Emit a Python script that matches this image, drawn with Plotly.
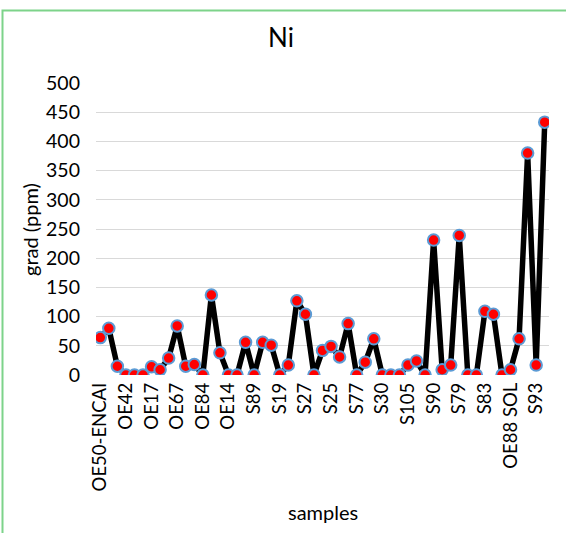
import plotly.graph_objects as go

# Ni concentration per sample (ppm), in sampling order
ni_ppm = [64, 80, 15, 0, 0, 0, 14, 9, 29, 84,
          15, 18, 0, 137, 38, 0, 0, 56, 0, 56,
          51, 0, 17, 127, 104, 0, 42, 49, 31, 88,
          0, 22, 62, 0, 0, 0, 17, 24, 0, 231,
          9, 17, 239, 0, 0, 109, 104, 0, 9, 62,
          380, 17, 433]

# Sample names shown on the axis (every third sample)
tick_labels = ["OE50-ENCAI", "OE42", "OE17", "OE67", "OE84", "OE14",
               "S89", "S19", "S27", "S25", "S77", "S30",
               "S105", "S90", "S79", "S83", "OE88 SOL", "S93"]
label_step = 3

y_ticks = [0, 50, 100, 150, 200, 250, 300, 350, 400, 450, 500]

x_idx = list(range(len(ni_ppm)))
tick_pos = [i * label_step for i in range(len(tick_labels))]

FONT = "Lato, 'Open Sans', sans-serif"
W, H = 566, 533
ML, MR, MT, MB = 96, 17, 83, 158
PW, PH = W - ML - MR, H - MT - MB

fig = go.Figure()
fig.add_trace(go.Scatter(
    x=x_idx, y=ni_ppm,
    mode="lines+markers",
    line=dict(color="#000000", width=5.5),
    marker=dict(size=11.5, color="#FF0000",
                line=dict(color="#5B9BD5", width=2)),
    showlegend=False,
    hoverinfo="y",
))

fig.update_layout(
    width=W, height=H,
    margin=dict(l=ML, r=MR, t=MT, b=MB),
    paper_bgcolor="white",
    plot_bgcolor="white",
    font=dict(family=FONT, color="#000000"),
    title=dict(text="Ni", x=281 / W, xref="container", xanchor="center",
               y=1 - 38 / H, yref="container", yanchor="middle",
               font=dict(size=26, family=FONT, color="#000000")),
    xaxis=dict(
        range=[-0.5, len(ni_ppm) - 0.5],
        tickmode="array", tickvals=tick_pos, ticktext=tick_labels,
        tickangle=-90, tickfont=dict(size=18.5, family=FONT),
        showgrid=False, zeroline=False, showline=False,
        ticks="", ticklabelstandoff=3,
    ),
    yaxis=dict(
        range=[0, 500],
        tickmode="array", tickvals=y_ticks,
        tickfont=dict(size=19.5, family=FONT),
        showgrid=True, gridcolor="#D9D9D9", gridwidth=1.3,
        zeroline=False, showline=False, ticks="",
        ticklabelstandoff=15,
    ),
    annotations=[
        dict(text="grad (ppm)", textangle=-90, showarrow=False,
             xref="paper", yref="paper",
             x=(30 - ML) / PW, y=(H - MB - 230) / PH,
             xanchor="center", yanchor="middle",
             font=dict(size=20, family=FONT)),
        dict(text="samples", showarrow=False,
             xref="paper", yref="paper",
             x=0.5, y=-(512 - (H - MB)) / PH,
             xanchor="center", yanchor="middle",
             font=dict(size=20, family=FONT)),
    ],
    shapes=[
        # chart-area frame (top and left edges fall inside the page)
        dict(type="rect", xref="paper", yref="paper",
             x0=-(ML - 2.5) / PW, x1=1 + (MR + 20) / PW,
             y0=-(MB + 20) / PH, y1=1 + (MT - 10.5) / PH,
             line=dict(color="#7DD38A", width=2), layer="below"),
    ],
)

fig.write_html("out.html")
